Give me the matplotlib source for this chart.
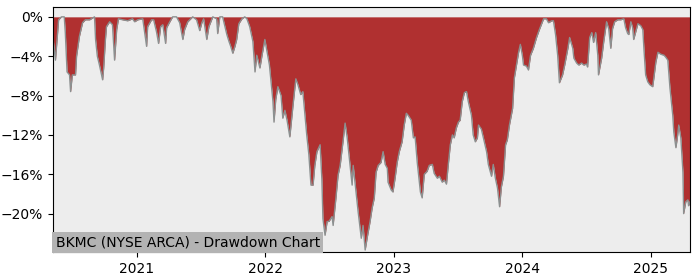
import matplotlib
matplotlib.use("Agg")
import matplotlib.pyplot as plt
import matplotlib.dates as mdates
from matplotlib.ticker import MultipleLocator, PercentFormatter
import pandas as pd

# ── Data (drawdown in %) ─────────────────────────────────────────────────────
TITLE = "BKMC (NYSE ARCA) - Drawdown Chart"

dates = [
    # 2020
    "2020-05-08", "2020-05-15", "2020-05-24", "2020-06-01", "2020-06-09", "2020-06-12",
    "2020-06-17", "2020-06-24", "2020-06-27", "2020-07-02", "2020-07-11", "2020-07-14",
    "2020-07-22", "2020-07-31", "2020-08-08", "2020-08-20", "2020-09-03", "2020-09-06",
    "2020-09-11", "2020-09-17", "2020-09-26", "2020-09-29", "2020-10-04", "2020-10-07",
    "2020-10-16", "2020-10-24", "2020-10-30", "2020-11-05", "2020-11-10", "2020-11-22",
    "2020-12-06", "2020-12-20", "2020-12-26",
    # 2021
    "2021-01-04", "2021-01-18", "2021-01-29", "2021-02-01", "2021-02-12", "2021-02-18",
    "2021-02-26", "2021-03-04", "2021-03-10", "2021-03-16", "2021-03-24", "2021-03-27",
    "2021-04-05", "2021-04-13", "2021-04-24", "2021-05-03", "2021-05-12", "2021-05-17",
    "2021-05-26", "2021-06-09", "2021-06-20", "2021-06-29", "2021-07-05", "2021-07-10",
    "2021-07-19", "2021-07-25", "2021-08-05", "2021-08-16", "2021-08-19", "2021-08-25",
    "2021-09-02", "2021-09-14", "2021-09-20", "2021-09-25", "2021-10-01", "2021-10-07",
    "2021-10-12", "2021-10-18", "2021-10-27", "2021-11-04", "2021-11-10", "2021-11-18",
    "2021-11-27", "2021-12-03", "2021-12-08", "2021-12-17", "2021-12-23", "2021-12-31",
    # 2022
    "2022-01-05", "2022-01-13", "2022-01-23", "2022-01-26", "2022-01-31", "2022-02-06",
    "2022-02-15", "2022-02-20", "2022-02-26", "2022-03-04", "2022-03-12", "2022-03-21",
    "2022-03-29", "2022-04-04", "2022-04-12", "2022-04-18", "2022-04-24", "2022-04-29",
    "2022-05-05", "2022-05-11", "2022-05-17", "2022-05-22", "2022-05-28", "2022-06-06",
    "2022-06-11", "2022-06-14", "2022-06-20", "2022-06-26", "2022-07-01", "2022-07-10",
    "2022-07-13", "2022-07-21", "2022-07-27", "2022-08-02", "2022-08-10", "2022-08-16",
    "2022-08-22", "2022-08-27", "2022-09-05", "2022-09-08", "2022-09-16", "2022-09-22",
    "2022-10-01", "2022-10-06", "2022-10-12", "2022-10-18", "2022-10-26", "2022-11-01",
    "2022-11-07", "2022-11-12", "2022-11-18", "2022-11-26", "2022-12-02", "2022-12-08",
    "2022-12-14", "2022-12-16", "2022-12-25", "2022-12-30",
    # 2023
    "2023-01-05", "2023-01-11", "2023-01-17", "2023-01-25", "2023-01-31", "2023-02-06",
    "2023-02-11", "2023-02-20", "2023-02-26", "2023-03-03", "2023-03-09", "2023-03-18",
    "2023-03-23", "2023-03-29", "2023-04-06", "2023-04-12", "2023-04-21", "2023-04-26",
    "2023-05-05", "2023-05-11", "2023-05-19", "2023-05-25", "2023-05-31", "2023-06-05",
    "2023-06-11", "2023-06-17", "2023-06-22", "2023-06-28", "2023-07-04", "2023-07-09",
    "2023-07-15", "2023-07-21", "2023-07-27", "2023-08-01", "2023-08-10", "2023-08-15",
    "2023-08-21", "2023-08-27", "2023-08-30", "2023-09-07", "2023-09-13", "2023-09-22",
    "2023-09-27", "2023-10-06", "2023-10-11", "2023-10-17", "2023-10-23", "2023-10-29",
    "2023-11-03", "2023-11-09", "2023-11-15", "2023-11-20", "2023-11-26", "2023-12-05",
    "2023-12-10", "2023-12-16", "2023-12-22", "2023-12-27",
    # 2024
    "2024-01-02", "2024-01-05", "2024-01-13", "2024-01-19", "2024-01-25", "2024-02-02",
    "2024-02-11", "2024-02-19", "2024-03-02", "2024-03-10", "2024-03-16", "2024-03-25",
    "2024-03-30", "2024-04-05", "2024-04-11", "2024-04-16", "2024-04-25", "2024-05-01",
    "2024-05-10", "2024-05-15", "2024-05-24", "2024-05-27", "2024-06-04", "2024-06-10",
    "2024-06-18", "2024-06-24", "2024-07-02", "2024-07-05", "2024-07-11", "2024-07-17",
    "2024-07-22", "2024-07-28", "2024-08-03", "2024-08-05", "2024-08-14", "2024-08-20",
    "2024-08-28", "2024-09-03", "2024-09-09", "2024-09-14", "2024-09-20", "2024-09-29",
    "2024-10-07", "2024-10-16", "2024-10-21", "2024-10-27", "2024-10-30", "2024-11-05",
    "2024-11-10", "2024-11-13", "2024-11-19", "2024-11-25", "2024-12-03", "2024-12-09",
    "2024-12-12", "2024-12-17", "2024-12-23", "2024-12-29",
    # 2025
    "2025-01-06", "2025-01-09", "2025-01-15", "2025-01-21", "2025-01-29", "2025-02-07",
    "2025-02-12", "2025-02-18", "2025-02-24", "2025-03-04", "2025-03-07", "2025-03-13",
    "2025-03-18", "2025-03-21", "2025-03-27", "2025-04-02", "2025-04-04", "2025-04-10",
    "2025-04-16", "2025-04-18", "2025-04-22",
]

drawdown = [
    # 2020
    -2.1, -4.4, -0.3, 0.0, 0.0, -1.6,
    -5.6, -5.9, -7.6, -5.9, -5.9, -4.0,
    -2.0, -0.6, -0.3, -0.3, 0.0, -2.3,
    -4.0, -4.9, -6.4, -5.2, -2.3, -1.0,
    -0.5, -0.8, -4.4, -1.3, -0.2, -0.3,
    -0.4, -0.2, -0.5,
    # 2021
    -0.3, -0.2, -3.0, -1.0, -0.3, -0.3,
    -1.5, -2.7, -1.0, -0.8, -2.7, -1.1,
    -0.5, 0.0, 0.0, -0.6, -2.3, -1.3,
    -0.5, 0.0, -0.3, -1.4, -0.6, -0.2,
    -2.3, -1.0, 0.0, -0.2, -1.7, 0.0,
    0.0, -1.8, -2.5, -3.0, -3.7, -3.0,
    -2.3, -0.7, -0.2, 0.0, -0.2, -1.0,
    -2.5, -5.6, -3.9, -5.2, -3.9, -2.3,
    # 2022
    -3.3, -4.9, -8.6, -10.7, -8.4, -7.1,
    -8.0, -10.3, -9.5, -10.5, -12.2, -9.0,
    -6.3, -6.9, -7.9, -7.6, -10.0, -12.0,
    -14.0, -17.1, -17.1, -15.1, -13.7, -13.0,
    -16.5, -20.5, -22.2, -20.8, -20.8, -20.3,
    -21.2, -18.4, -16.1, -15.1, -12.7, -10.8,
    -12.3, -14.0, -17.1, -15.1, -17.8, -19.8,
    -22.5, -21.2, -23.7, -22.4, -20.8, -19.4,
    -18.4, -15.8, -15.1, -14.8, -13.7, -15.0,
    -15.4, -16.8, -17.6, -17.8,
    # 2023
    -16.4, -14.8, -13.7, -12.7, -11.0, -9.8,
    -10.0, -10.5, -12.3, -12.2, -14.8, -17.8,
    -18.4, -16.0, -15.7, -15.1, -15.0, -15.9,
    -16.4, -16.2, -16.8, -16.6, -17.0, -15.1,
    -13.0, -12.0, -12.3, -11.3, -10.7, -10.5,
    -8.6, -7.7, -7.6, -8.6, -10.0, -12.0,
    -12.7, -12.3, -11.0, -11.4, -12.3, -13.7,
    -15.0, -16.2, -15.0, -16.4, -17.4, -19.3,
    -17.3, -16.2, -13.0, -12.5, -11.0, -9.3,
    -6.2, -4.9, -3.6, -2.8,
    # 2024
    -4.0, -4.9, -5.0, -5.4, -3.9, -3.2,
    -2.1, -1.3, -0.2, -0.2, -0.6, -0.4,
    -0.4, -1.8, -3.9, -6.7, -5.9, -4.9,
    -3.2, -2.1, -3.2, -4.2, -4.7, -4.9,
    -4.7, -4.9, -4.8, -5.1, -2.1, -1.6,
    -2.6, -1.6, -3.9, -5.9, -4.2, -2.5,
    -0.5, -1.2, -3.2, -1.2, -0.5, -0.3,
    -0.3, -0.2, -1.1, -1.7, -1.8, -0.5,
    -1.1, -2.3, -1.5, -0.7, -0.9, -1.3,
    -3.2, -5.9, -6.6, -6.9,
    # 2025
    -7.1, -6.3, -4.6, -3.6, -3.8, -3.9,
    -4.1, -4.4, -7.2, -10.0, -11.7, -13.3,
    -12.0, -11.0, -12.3, -15.8, -20.0, -18.8,
    -18.6, -19.2, -18.8,
]

# ── Plot ──────────────────────────────────────────────────────────────────────
x = pd.to_datetime(dates)

fig = plt.figure(figsize=(7, 2.8), dpi=100)
ax = fig.add_axes([0.0757, 0.1, 0.91, 0.875])
ax.set_facecolor("#ededed")

ax.fill_between(x, drawdown, 0, color="#b03030", linewidth=0)
ax.plot(x, drawdown, color="#8c9090", linewidth=1.0)

ax.set_xlim(x[0], x[-1])
ax.set_ylim(-23.9, 1.0)

ax.yaxis.set_major_locator(MultipleLocator(4))
ax.yaxis.set_major_formatter(PercentFormatter(xmax=100, decimals=0))
ax.xaxis.set_major_locator(mdates.YearLocator())
ax.xaxis.set_major_formatter(mdates.DateFormatter("%Y"))
ax.tick_params(labelsize=10)

ax.text(0.004, 0.012, TITLE, transform=ax.transAxes, fontsize=10,
        ha="left", va="bottom",
        bbox=dict(facecolor="#b3b3b3", edgecolor="none", pad=2.5))

fig.savefig("out.png", dpi=100)
